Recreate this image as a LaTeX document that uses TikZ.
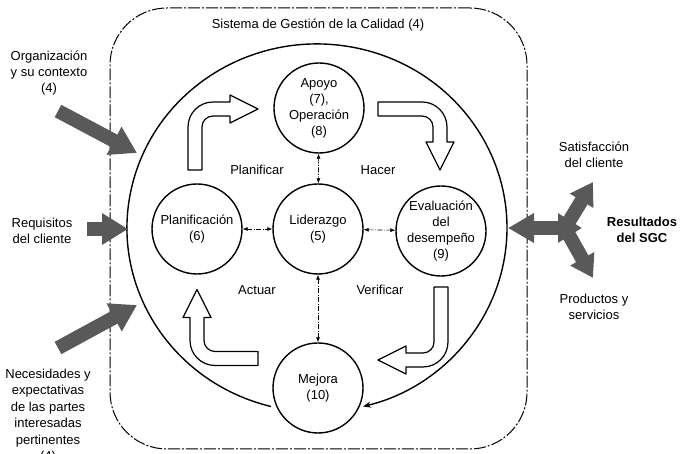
\documentclass[tikz,border=0pt]{standalone}
\usepackage{fontspec}
\setmainfont{Liberation Sans}
\usetikzlibrary{arrows.meta, positioning}

% bent hollow arrow: #1 = first leg, #2 = second leg
\newcommand{\cyclearrow}[2]{%
  \draw[hollow] (-7,0) -- (-7,#1-18) arc[start angle=180, end angle=90, radius=25]
    -- (#2-28,#1+7) -- (#2-28,#1+14) -- (#2,#1) -- (#2-28,#1-14) -- (#2-28,#1-7)
    -- (18,#1-7) arc[start angle=90, end angle=180, radius=11] -- (7,0) -- cycle;}

\begin{document}
\begin{tikzpicture}[
    x=1pt, y=1pt,
    every node/.style={font=\fontsize{13}{16}\selectfont, align=center},
    proc/.style={draw, circle, line width=1.4pt, minimum size=90pt, inner sep=-3pt},
    frame/.style={draw, rounded corners=57pt, line width=1pt, dash pattern=on 12pt off 2pt on 2pt off 2pt, minimum width=417pt, minimum height=441pt},
    hollow/.style={draw, line width=1.2pt, fill=white, line join=round},
    link/.style={{Latex[length=5pt,width=4pt]}-{Latex[length=5pt,width=4pt]}, line width=0.6pt, dash pattern=on 5pt off 1.5pt on 1pt off 1.5pt},
    fat/.style={line width=14pt, draw=black!65},
    fathead/.style={-{Triangle[length=26pt,width=30pt]}}
]
\useasboundingbox (0,0) rectangle (686,454);

\node[frame] (sgc) at (318.5,225.5) {};
\node (title) at (318,429) {Sistema de Gestión de la Calidad (4)};

% process circles
\node[proc] (apoyo) at (319,346) {Apoyo\\(7),\\Operación\\(8)};
\node[proc] (plan) at (197,225) {Planificación\\(6)};
\node[proc] (lider) at (318,225) {Liderazgo\\(5)};
\node[proc] (eval) at (441,223) {Evaluación\\del\\desempeño\\(9)};
\node[proc] (mejora) at (318,66) {Mejora\\(10)};

\draw[link] (apoyo) -- (lider);
\draw[link] (plan) -- (lider);
\draw[link] (lider) -- (eval);
\draw[link] (lider) -- (mejora);

% outer cycle
\coordinate (cyc) at (271,47.5);
\draw[line width=1.4pt, -{Stealth[length=8pt,width=6pt]}] (cyc) arc[start angle=256, end angle=-76, x radius=190, y radius=184];

% PDCA arrows
\begin{scope}[shift={(195,284)}] \cyclearrow{61}{63} \end{scope}
\begin{scope}[shift={(378,345)}, rotate=-90] \cyclearrow{62}{61} \end{scope}
\begin{scope}[shift={(441,167)}, rotate=180] \cyclearrow{73}{63} \end{scope}
\begin{scope}[shift={(258,95.5)}, rotate=90] \cyclearrow{61}{69} \end{scope}

\node (planif) at (257,284) {Planificar};
\node (hacer) at (378,284) {Hacer};
\node (actuar) at (257,164) {Actuar};
\node (verif) at (380,164) {Verificar};

% inputs
\node (org) at (49,381) {Organización\\y su contexto\\(4)};
\node (req) at (42,223) {Requisitos\\del cliente};
\node[font=\fontsize{13}{16.5}\selectfont] (nec) at (48,38) {Necesidades y\\expectativas\\de las partes\\interesadas\\pertinentes\\(4)};

\coordinate (orgA) at (58,343);
\coordinate (orgB) at (137,301);
\coordinate (reqA) at (87,225);
\coordinate (reqB) at (128,225);
\coordinate (necA) at (58,106);
\coordinate (necB) at (137,149);
\draw[fat, fathead] (orgA) -- (orgB);
\draw[fat, fathead] (reqA) -- (reqB);
\draw[fat, fathead] (necA) -- (necB);

% outputs
\node (sat) at (594,299) {Satisfacción\\del cliente};
\node[font=\bfseries\fontsize{13}{16}\selectfont] (res) at (642,224) {Resultados\\del SGC};
\node (prod) at (594,147) {Productos y\\servicios};

\coordinate (resL) at (508,226);
\coordinate (resR) at (582,226);
\coordinate (resJ) at (565,226);
\coordinate (resUp) at (593,272);
\coordinate (resDn) at (593,176);
\draw[fat, {Triangle[length=26pt,width=28pt]}-{Triangle[length=24pt,width=28pt]}] (resL) -- (resR);
\draw[fat, -{Triangle[length=22pt,width=26pt]}] (resJ) -- (resUp);
\draw[fat, -{Triangle[length=22pt,width=26pt]}] (resJ) -- (resDn);
\end{tikzpicture}
\end{document}
